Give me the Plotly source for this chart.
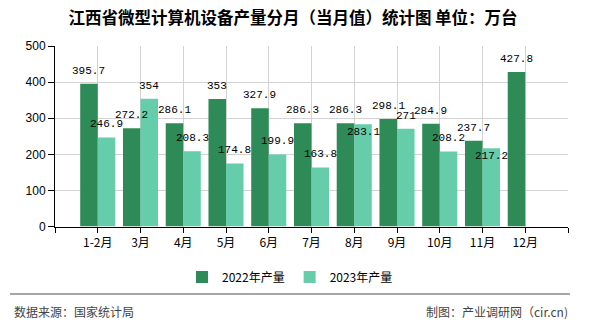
import plotly.graph_objects as go

months = ["1-2月", "3月", "4月", "5月", "6月", "7月", "8月", "9月", "10月", "11月", "12月"]
series_names = ["2022年产量", "2023年产量"]
values_2022 = [395.7, 272.2, 286.1, 353, 327.9, 286.3, 286.3, 298.1, 284.9, 237.7, 427.8]
values_2023 = [246.9, 354, 208.3, 174.8, 199.9, 163.8, 283.1, 271, 208.2, 217.2, None]
y_ticks = [0, 100, 200, 300, 400, 500]

title_text = "江西省微型计算机设备产量分月（当月值）统计图 单位：万台"
source_text = "数据来源：国家统计局"
credit_text = "制图：产业调研网（cir.cn)"

colors = ["#2e8b57", "#66cdaa"]
xpos = list(range(len(months)))

BARGAP = 0.18
PLOT_H = 183.5
Y_MAX = 500
px_per_unit = PLOT_H / Y_MAX

def fmt(v):
    return "%g" % v

fig = go.Figure()
for name, vals, col in zip(series_names, [values_2022, values_2023], colors):
    fig.add_trace(go.Bar(
        x=xpos, y=vals, name=name, marker=dict(color=col, line=dict(width=0)),
    ))

# value labels drawn on top of all bars, with simple collision avoidance
bar_w = (1 - BARGAP) / 2
label_font = dict(family="Liberation Mono, DejaVu Sans Mono, monospace", size=11, color="#000")
for i in xpos:
    a = values_2022[i]
    b = values_2023[i]
    fig.add_annotation(x=i - bar_w / 2, y=a, text=fmt(a), showarrow=False,
                       yanchor="middle", yshift=13, font=label_font)
    if b is not None:
        shift = 13
        if abs(a - b) * px_per_unit < 9:
            shift = -8
        fig.add_annotation(x=i + bar_w / 2, y=b, text=fmt(b), showarrow=False,
                           yanchor="middle", yshift=shift, font=label_font)

tickvals = [-1] + xpos + [len(months)]
ticktext = [""] + months + [""]

fig.update_layout(
    width=590, height=330,
    margin=dict(l=55, r=22, t=46, b=100.5),
    paper_bgcolor="white", plot_bgcolor="white",
    barmode="group", bargap=BARGAP, bargroupgap=0,
    title=dict(text=title_text, x=293/590, xanchor="center", y=1 - 18/330, yanchor="middle",
               font=dict(family="Noto Sans CJK SC", size=16.5, color="#000", weight="bold")),
    xaxis=dict(range=[-1, len(months)], tickmode="array", tickvals=tickvals, ticktext=ticktext,
               showgrid=True, gridcolor="#d3d3d3", gridwidth=1, zeroline=False,
               showline=True, linecolor="#000", linewidth=1,
               ticks="outside", ticklen=5, tickcolor="#000", tickwidth=1,
               tickfont=dict(family="Noto Sans CJK SC", size=12, color="#000")),
    yaxis=dict(range=[0, Y_MAX], tickmode="array", tickvals=y_ticks,
               showgrid=True, gridcolor="#d3d3d3", gridwidth=1, zeroline=False,
               showline=True, linecolor="#000", linewidth=1,
               ticks="outside", ticklen=6, tickcolor="#000", tickwidth=1,
               tickfont=dict(family="Liberation Sans, Arial, sans-serif", size=12, color="#000")),
    legend=dict(orientation="h", xref="container", yref="container",
                x=290/590, xanchor="center", y=1 - 277/330, yanchor="middle",
                font=dict(family="Noto Sans CJK SC", size=12, color="#000"),
                itemwidth=30, tracegroupgap=0),
    showlegend=True,
)

fig.add_shape(type="line", xref="paper", yref="paper",
              x0=(10 - 55) / 513, x1=(570 - 55) / 513,
              y0=(229.5 - 298) / PLOT_H, y1=(229.5 - 298) / PLOT_H,
              line=dict(color="#888888", width=1.5))
fig.add_annotation(text=source_text, xref="paper", yref="paper",
                   x=(12 - 55) / 513, xanchor="left", y=(229.5 - 316) / PLOT_H, yanchor="middle",
                   showarrow=False, font=dict(family="Noto Sans CJK SC", size=12, color="#444"))
fig.add_annotation(text=credit_text, xref="paper", yref="paper",
                   x=(570 - 55) / 513, xanchor="right", y=(229.5 - 316) / PLOT_H, yanchor="middle",
                   showarrow=False, font=dict(family="Noto Sans CJK SC", size=12, color="#444"))

fig.write_html("out.html")
